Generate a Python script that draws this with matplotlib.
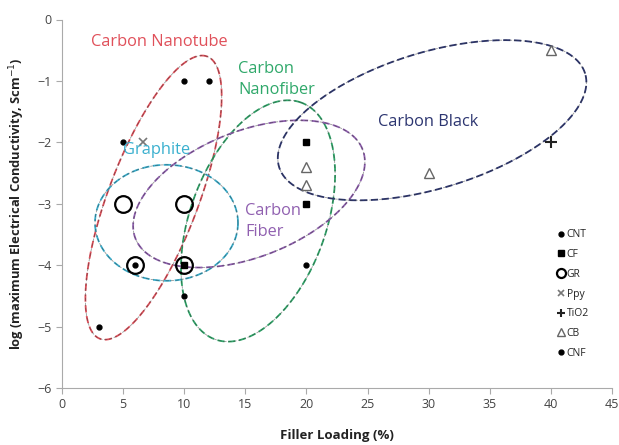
import matplotlib
matplotlib.use("Agg")
import matplotlib.pyplot as plt
import numpy as np

plt.rcParams['font.family'] = ['Open Sans', 'DejaVu Sans']

# data points (filler loading %, log conductivity)
cnt_x = [3, 5, 10, 12, 6]
cnt_y = [-5, -2, -1, -1, -4]
cf_x = [20, 20, 10]
cf_y = [-2, -3, -4]
gr_x = [5, 10, 6, 10]
gr_y = [-3, -3, -4, -4]
ppy_x = [6.6]
ppy_y = [-2]
tio2_x = [40]
tio2_y = [-2]
cb_x = [40, 30, 20, 20]
cb_y = [-0.5, -2.5, -2.4, -2.7]
cnf_x = [10, 20]
cnf_y = [-4.5, -4]

xticks = [0, 5, 10, 15, 20, 25, 30, 35, 40, 45]
yticks = [0, -1, -2, -3, -4, -5, -6]

# group outlines: centre (data), semi-axes in px, angle in deg, colour
groups = ['Carbon Nanotube', 'Carbon Nanofiber', 'Graphite', 'Carbon Fiber', 'Carbon Black']
centres = [(7.49, -2.9), (16.04, -3.28), (8.55, -3.31), (15.3, -2.84), (30.28, -1.64)]
semi = [(151, 45), (126, 68), (71.5, 58), (122, 63), (160, 68)]
angles = [69.2, 70, 0, 21.4, 17]
colours = ['#e0505a', '#2fa86a', '#3ab0cf', '#9060b0', '#2c3570']

fig = plt.figure(figsize=(6.19, 4.45), dpi=100)
ax = fig.add_axes([62/619, 1-388/445, 550/619, (388-19.5)/445])
ax.set_xlim(0, 45)
ax.set_ylim(-6, 0)

# px per data unit, for drawing tilted outlines in screen space
sx = 550/45
sy = (388-19.5)/6
t = np.linspace(0, 2*np.pi, 300)
for (cx, cy), (a, b), ang, col in zip(centres, semi, angles, colours):
    th = np.radians(ang)
    ex = cx + (a*np.cos(t)*np.cos(th) - b*np.sin(t)*np.sin(th))/sx
    ey = cy + (a*np.cos(t)*np.sin(th) + b*np.sin(t)*np.cos(th))/sy
    ax.plot(ex, ey, color=col, lw=1.3, ls=(0, (4, 2)), zorder=1)
    ax.plot(ex, ey, color='#333333', lw=0.6, ls=(0, (4, 2)), alpha=0.5, zorder=1)

ax.plot(cnt_x, cnt_y, 'o', color='black', ms=3.5, label='CNT', zorder=3)
ax.plot(cf_x, cf_y, 's', color='black', ms=5, label='CF', zorder=3)
ax.plot(gr_x, gr_y, 'o', mfc='none', mec='black', mew=1.6, ms=12, label='GR', zorder=3)
ax.plot(ppy_x, ppy_y, 'x', color='#777777', ms=6, mew=1.2, label='Ppy', zorder=3)
ax.plot(tio2_x, tio2_y, '+', color='#222222', ms=8, mew=1.5, label='TiO2', zorder=3)
ax.plot(cb_x, cb_y, '^', mfc='none', mec='#666666', ms=7, mew=1, label='CB', zorder=3)
ax.plot(cnf_x, cnf_y, 'o', color='black', ms=3.5, label='CNF', zorder=3)

fs = 11.8
ax.text(7.94, -0.37, 'Carbon Nanotube', color=colours[0], fontsize=fs, ha='center', va='center')
ax.text(14.4, -0.98, 'Carbon\nNanofiber', color=colours[1], fontsize=fs, ha='left', va='center', linespacing=1.45)
ax.text(25.86, -1.67, 'Carbon Black', color=colours[4], fontsize=fs, ha='left', va='center')
ax.text(4.95, -2.13, 'Graphite', color=colours[2], fontsize=fs, ha='left', va='center')
ax.text(14.98, -3.29, 'Carbon\nFiber', color=colours[3], fontsize=fs, ha='left', va='center', linespacing=1.35)

leg = ax.legend(loc='upper left', bbox_to_anchor=(0.880, 0.456), frameon=False,
                fontsize=7.5, handletextpad=0.1, labelspacing=0.84, handlelength=1.0)
sizes = [3.5, 4.5, 6.5, 5, 6, 5.5, 3.5]
for h, s in zip(leg.legend_handles, sizes):
    h.set_markersize(s)
for txt in leg.get_texts():
    txt.set_color('#222222')

ax.set_xticks(xticks)
ax.set_yticks(yticks)
for s in ['top', 'right']:
    ax.spines[s].set_visible(False)
for s in ['left', 'bottom']:
    ax.spines[s].set_color('#aaaaaa')
ax.tick_params(colors='#aaaaaa', labelcolor='#444444', labelsize=9, length=4, direction='out')
ax.set_xlabel('Filler Loading (%)', fontsize=9.5, fontweight='bold', color='#222222', labelpad=13)
ax.set_ylabel('log (maximum Electrical Conductivity, Scm$^{-1}$)', fontsize=9.3,
              fontweight='bold', color='#222222', labelpad=7)

fig.savefig('out.png', dpi=100)
